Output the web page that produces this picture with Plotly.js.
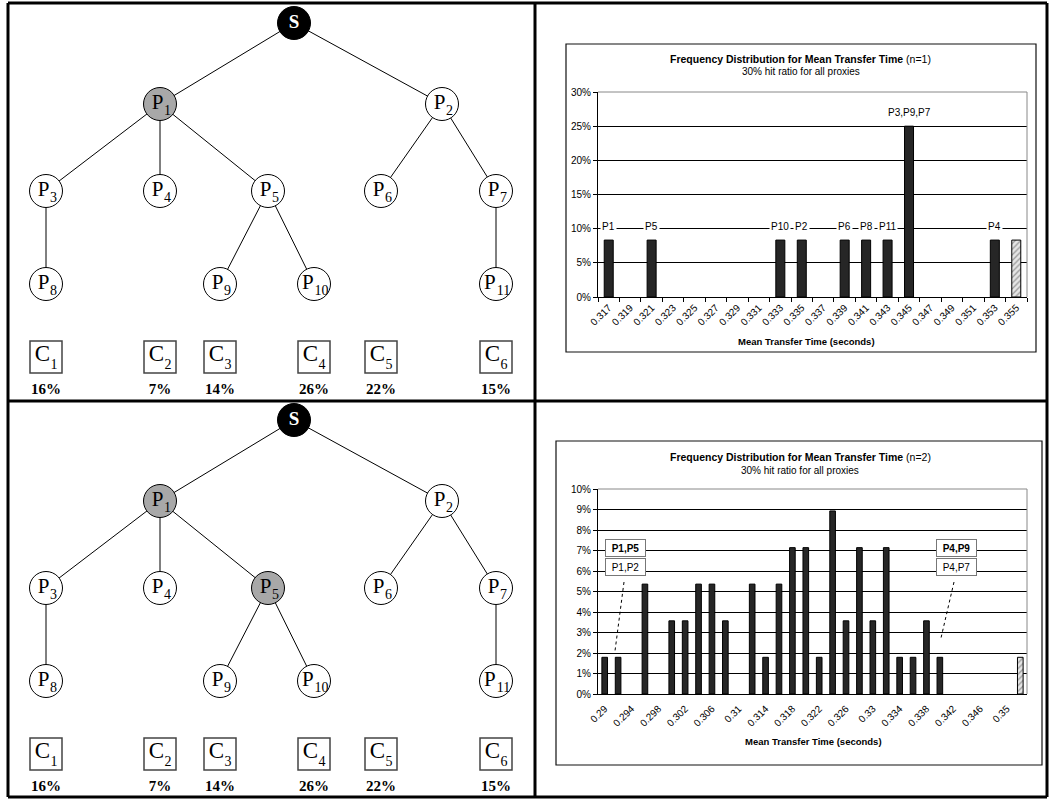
<!DOCTYPE html>
<html><head><meta charset="utf-8">
<script src="https://cdn.plot.ly/plotly-3.0.1.min.js"></script>
<style>html,body{margin:0;padding:0;background:#fff;}#chart{width:1050px;height:799px;}</style>
</head><body><div id="chart"></div>
<script>
// ---------------- data ----------------
const treeNodes   = ['S','P1','P2','P3','P4','P5','P6','P7','P8','P9','P10','P11'];
const treeParents = [null,'S','S','P1','P1','P1','P2','P2','P3','P5','P5','P7'];
const treeLevels  = [0,1,1,2,2,2,2,2,3,3,3,3];
const treeColumns = [294,160,442,46,160,268,381,496,46,220,314,496];
const clientNames   = ['C1','C2','C3','C4','C5','C6'];
const clientColumns = [46,160,220,314,381,496];
const clientShares  = ['16%','7%','14%','26%','22%','15%'];
const shadedTopTree    = ['P1'];
const shadedBottomTree = ['P1','P5'];

const cats1   = ['0.317','0.319','0.321','0.323','0.325','0.327','0.329','0.331','0.333','0.335','0.337','0.339','0.341','0.343','0.345','0.347','0.349','0.351','0.353','0.355'];
const freq1   = [8.33,0,8.33,0,0,0,0,0,8.33,8.33,0,8.33,8.33,8.33,25,0,0,0,8.33,8.33];
const labels1 = ['P1','','P5','','','','','','P10','P2','','P6','P8','P11','P3,P9,P7','','','','P4',''];
const hatchedCat1 = '0.355';

const cats2 = ['0.29','0.292','0.294','0.296','0.298','0.3','0.302','0.304','0.306','0.308','0.31','0.312','0.314','0.316','0.318','0.32','0.322','0.324','0.326','0.328','0.33','0.332','0.334','0.336','0.338','0.34','0.342','0.344','0.346','0.348','0.35','0.352'];
const freq2 = [1.79,1.79,0,5.36,0,3.57,3.57,5.36,5.36,3.57,0,5.36,1.79,5.36,7.14,7.14,1.79,8.93,3.57,7.14,3.57,7.14,1.79,1.79,3.57,1.79,0,0,0,0,0,1.79];
const hatchedCat2 = '0.352';
const pairLabelsBold = ['P1,P5','P4,P9'];
const pairLabels     = ['P1,P2','P4,P7'];

// ---------------- layout helpers ----------------
const W = 1050, H = 799;
const px = x => x / W, py = y => 1 - y / H;
const levelY = [23, 104, 191, 284];
const clientY = 357, shareY = 390;
const SANS = 'Liberation Sans, Arial, sans-serif';
const SERIF = 'Liberation Serif, Times New Roman, serif';

function textTrace(xs, ys, texts, size, yaxis, color){
  return {type:'scatter', mode:'text', x:xs, y:ys, text:texts, xaxis:'x3', yaxis:yaxis, cliponaxis:false,
    textposition:'middle center', textfont:{family:SERIF, size:size, color:color || '#000'}, hoverinfo:'skip'};
}

function treeTraces(yaxis, shaded){
  const ex = [], ey = [];
  treeNodes.forEach((n, i) => {
    const p = treeParents[i];
    if (p) {
      const j = treeNodes.indexOf(p);
      ex.push(treeColumns[j], treeColumns[i], null);
      ey.push(levelY[treeLevels[j]], levelY[treeLevels[i]], null);
    }
  });
  const nodeY = treeLevels.map(l => levelY[l]);
  const proxIdx = treeNodes.map((n, i) => i).filter(i => treeNodes[i] !== 'S');
  const sIdx = treeNodes.indexOf('S');
  // letter + subscript placement (pixel units of the tree axes)
  const letterX = proxIdx.map(i => treeColumns[i] + 1.5 - 3.8 * (treeNodes[i].length - 1));
  const subX    = proxIdx.map(i => treeColumns[i] + 7.5);
  return [
    {type:'scatter', mode:'lines', x:ex, y:ey, xaxis:'x3', yaxis:yaxis,
     line:{color:'#000', width:1}, hoverinfo:'skip', cliponaxis:false},
    {type:'scatter', mode:'markers', xaxis:'x3', yaxis:yaxis, cliponaxis:false,
     x:treeColumns, y:nodeY, hoverinfo:'skip',
     marker:{symbol:'circle', size:33,
       color:treeNodes.map(n => n === 'S' ? '#000' : (shaded.includes(n) ? '#a8a8a8' : '#fff')),
       line:{color:'#000', width:1}}},
    textTrace([treeColumns[sIdx]], [nodeY[sIdx]], ['<b>' + treeNodes[sIdx] + '</b>'], 19, yaxis, '#fff'),
    textTrace(letterX, proxIdx.map(i => nodeY[i] - 0.5), proxIdx.map(i => treeNodes[i][0]), 21, yaxis),
    textTrace(subX, proxIdx.map(i => nodeY[i] + 7), proxIdx.map(i => treeNodes[i].slice(1)), 14, yaxis),
    {type:'scatter', mode:'markers', xaxis:'x3', yaxis:yaxis, cliponaxis:false, hoverinfo:'skip',
     x:clientColumns, y:clientColumns.map(() => clientY),
     marker:{symbol:'square', size:32, color:'#fff', line:{color:'#444', width:1.5}}},
    textTrace(clientColumns.map(c => c - 3.5), clientColumns.map(() => clientY - 2), clientNames.map(c => c[0]), 23, yaxis),
    textTrace(clientColumns.map(c => c + 8), clientColumns.map(() => clientY + 8), clientNames.map(c => c.slice(1)), 14, yaxis),
    textTrace(clientColumns, clientColumns.map(() => shareY), clientShares.map(s => '<b>' + s + '</b>'), 15, yaxis)
  ];
}

function barTrace(cats, freq, hatchedCat, xa, ya){
  return {type:'bar', x:cats, y:freq, xaxis:xa, yaxis:ya, width:0.42,
    marker:{color:cats.map(c => c === hatchedCat ? '#e6e6e6' : '#262626'),
      line:{color:'#000', width:freq.map(v => v > 0 ? 1 : 0)},
      pattern:{shape:cats.map(c => c === hatchedCat ? '/' : ''), fgcolor:'#555', size:4, solidity:0.3, fillmode:'overlay'}},
    hoverinfo:'skip'};
}

const data = [
  ...treeTraces('y3', shadedTopTree),
  ...treeTraces('y4', shadedBottomTree),
  barTrace(cats1, freq1, hatchedCat1, 'x', 'y'),
  barTrace(cats2, freq2, hatchedCat2, 'x2', 'y2')
];

const tickFont = {family:SANS, size:10, color:'#000'};
function yAx(domain, max, step){
  return {domain:domain, range:[0, max], dtick:step, ticksuffix:'%',
    showgrid:true, gridcolor:'#000', gridwidth:1, zeroline:false,
    showline:true, linecolor:'#000', linewidth:1, ticks:'outside', ticklen:4, tickcolor:'#000',
    tickfont:tickFont, fixedrange:true};
}
function xAx(domain, anchor, extra){
  return Object.assign({domain:domain, anchor:anchor, type:'category', tickangle:-45,
    ticks:'outside', tickson:'boundaries', ticklen:4, tickcolor:'#000',
    showline:true, linecolor:'#000', linewidth:1, showgrid:false, zeroline:false,
    tickfont:tickFont, fixedrange:true}, extra || {});
}

const shapes = [];
function line(x0,y0,x1,y1,w,color,dash){
  shapes.push({type:'line', xref:'paper', yref:'paper', x0:px(x0), y0:py(y0), x1:px(x1), y1:py(y1),
    line:{color:color||'#000', width:w, dash:dash||'solid'}, layer:'above'});
}
// outer table
line(8,3,1047,3,3); line(8,797,1047,797,3); line(8,3,8,797,3); line(1047,3,1047,797,3);
line(535,3,535,797,3); line(8,401,1047,401,3);
// chart frames
shapes.push({type:'rect', xref:'paper', yref:'paper', x0:px(566), x1:px(1036), y0:py(352), y1:py(44), line:{color:'#111', width:1.2}});
shapes.push({type:'rect', xref:'paper', yref:'paper', x0:px(556), x1:px(1042), y0:py(765), y1:py(441), line:{color:'#111', width:1.2}});
// plot-area top/right edges (grey)
[['x','y'],['x2','y2']].forEach(([xa,ya]) => {
  shapes.push({type:'line', xref:xa+' domain', yref:ya+' domain', x0:0, x1:1, y0:1, y1:1, line:{color:'#888', width:1}});
  shapes.push({type:'line', xref:xa+' domain', yref:ya+' domain', x0:1, x1:1, y0:0, y1:1, line:{color:'#888', width:1}});
});
// leader lines for chart 2 callouts
line(624,582,615,651,1,'#000','3px,3px');
line(954,582,941,638,1,'#000','3px,3px');

const annotations = [];
function note(text,x,y,size,extra){
  annotations.push(Object.assign({text:text, xref:'paper', yref:'paper', x:px(x), y:py(y),
    xanchor:'center', yanchor:'middle', showarrow:false, font:{family:SANS, size:size, color:'#000'}}, extra||{}));
}
note('<b>Frequency Distribution for Mean Transfer Time</b> (n=1)', 800, 59, 10.5);
note('30% hit ratio for all proxies', 801, 72, 10);
note('<b>Mean Transfer Time (seconds)</b>', 806, 341, 9.5);
note('<b>Frequency Distribution for Mean Transfer Time</b> (n=2)', 800, 457, 10.5);
note('30% hit ratio for all proxies', 800, 470, 10);
note('<b>Mean Transfer Time (seconds)</b>', 813, 741, 9.5);

// bar labels chart 1 (category index positions)
cats1.forEach((c, i) => {
  if (labels1[i]) annotations.push({text:labels1[i], xref:'x', yref:'y', x:i, y:freq1[i], yshift:14,
    showarrow:false, bgcolor:'#fff', borderpad:1, font:{family:SANS, size:10, color:'#000'}});
});
// callout boxes chart 2
const boxX = [625, 956];
pairLabelsBold.forEach((t, i) => note('<b>'+t+'</b>', boxX[i], 548, 10,
  {bgcolor:'#fff', bordercolor:'#777', borderwidth:1, borderpad:1, width:37, height:14}));
pairLabels.forEach((t, i) => note(t, boxX[i], 567, 10,
  {bgcolor:'#fff', bordercolor:'#777', borderwidth:1, borderpad:1, width:37, height:14}));

const labelledCats2 = cats2.filter((c, i) => i % 2 === 0);
const layout = {
  width:W, height:H, margin:{l:0, r:0, t:0, b:0}, paper_bgcolor:'#fff', plot_bgcolor:'rgba(0,0,0,0)',
  showlegend:false, bargap:0.58,
  xaxis: xAx([px(598), px(1027)], 'y'),
  yaxis: Object.assign(yAx([py(297), py(92)], 30, 5), {anchor:'x'}),
  // chart 2: labels every second category; boundary ticks on every category from xaxis5
  xaxis2: xAx([px(598), px(1027)], 'y2', {tickmode:'array', tickvals:labelledCats2, ticktext:labelledCats2,
            tickson:'labels', tickcolor:'rgba(0,0,0,0)'}),
  xaxis5: {overlaying:'x2', anchor:'y2', side:'bottom', range:[-0.5, cats2.length - 0.5], tick0:-0.5, dtick:1,
           ticks:'outside', ticklen:4, tickcolor:'#000', showticklabels:false, showgrid:false, zeroline:false,
           showline:false, fixedrange:true},
  yaxis2: Object.assign(yAx([py(694), py(489)], 10, 1), {anchor:'x2'}),
  xaxis3: {domain:[0, px(540)], range:[0, 540], visible:false, fixedrange:true},
  yaxis3: {domain:[py(400), 1], range:[400, 0], visible:false, fixedrange:true, anchor:'x3'},
  yaxis4: {domain:[py(797), py(397)], range:[400, 0], visible:false, fixedrange:true, anchor:'x3'},
  shapes:shapes, annotations:annotations
};

Plotly.newPlot('chart', data, layout, {staticPlot:true, displayModeBar:false});
</script></body></html>
